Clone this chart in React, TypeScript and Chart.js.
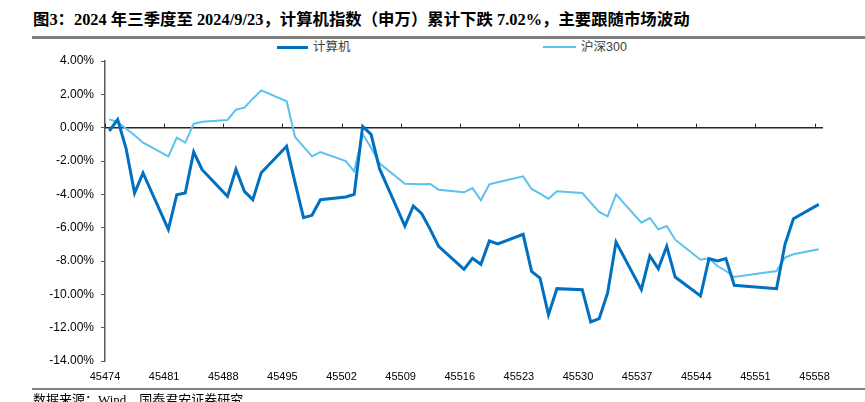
import React, { useEffect, useRef } from "react";
import { Chart, registerables } from "chart.js";

Chart.register(...registerables);

// Excel date serials of trading days (2024-07-01 = 45474)
const DATES = [
  45474, 45475, 45476, 45477, 45478,
  45481, 45482, 45483, 45484, 45485,
  45488, 45489, 45490, 45491, 45492,
  45495, 45496, 45497, 45498, 45499,
  45502, 45503, 45504, 45505, 45506,
  45509, 45510, 45511, 45512, 45513,
  45516, 45517, 45518, 45519, 45520,
  45523, 45524, 45525, 45526, 45527,
  45530, 45531, 45532, 45533, 45534,
  45537, 45538, 45539, 45540, 45541,
  45544, 45545, 45546, 45547, 45548,
  45553, 45554, 45555, 45558,
];

// 计算机 cumulative change (%)
const JSJ = [
  -0.2, 0.48, -1.26, -3.92, -2.72,
  -6.1, -4.02, -3.92, -1.46, -2.52,
  -4.12, -2.5, -3.82, -4.32, -2.7,
  -1.12, -3.3, -5.4, -5.26, -4.32,
  -4.16, -4.0, 0.08, -0.4, -2.46,
  -5.9, -4.7, -5.16, -6.1, -7.12,
  -8.5, -7.84, -8.2, -6.8, -6.98,
  -6.4, -8.62, -9.02, -11.22, -9.66,
  -9.72, -11.66, -11.46, -9.92, -6.86,
  -9.72, -7.7, -8.46, -7.12, -8.96,
  -10.1, -7.86, -8.0, -7.86, -9.46,
  -9.66, -7.0, -5.46, -4.6,
];

// 沪深300 cumulative change (%)
const HS300 = [
  0.5, 0.34, -0.06, -0.46, -0.9,
  -1.72, -0.6, -0.9, 0.24, 0.36,
  0.46, 1.08, 1.2, 1.74, 2.24,
  1.58, -0.56, -1.14, -1.72, -1.46,
  -2.0, -2.62, -0.4, -1.2, -2.14,
  -3.36, -3.38, -3.4, -3.38, -3.72,
  -3.88, -3.62, -4.36, -3.4, -3.28,
  -2.92, -3.68, -3.96, -4.26, -3.82,
  -3.92, -4.5, -5.06, -5.32, -4.0,
  -5.7, -5.42, -6.1, -5.9, -6.72,
  -7.92, -7.84, -8.3, -8.6, -8.96,
  -8.6, -7.8, -7.6, -7.3,
];

const SERIES_LABELS = ["计算机", "沪深300"];
const SERIES_COLORS = ["#0070C0", "#5BC2EE"];
const SERIES_WIDTHS = [3, 2];

const X_TICKS = [45474, 45481, 45488, 45495, 45502, 45509, 45516, 45523, 45530, 45537, 45544, 45551, 45558];
const X_MIN = 45474;
const X_MAX = 45559;
const DAY_CENTER = 0.5; // points sit in the middle of their day (date axis)
const Y_MIN = -14;
const Y_MAX = 4;
const Y_STEP = 2;

const TITLE = "图3：2024 年三季度至 2024/9/23，计算机指数（申万）累计下跌 7.02%，主要跟随市场波动";
const SOURCE = "数据来源：Wind，国泰君安证券研究";

const zeroAxis = {
  id: "zeroAxis",
  beforeDatasetsDraw(chart: any) {
    const { ctx, chartArea, scales } = chart;
    const x = scales.x;
    const y = scales.y;
    const y0 = y.getPixelForValue(0);
    ctx.save();
    ctx.strokeStyle = "#262626";
    ctx.lineWidth = 1.5;
    ctx.beginPath();
    ctx.moveTo(chartArea.left, y0);
    ctx.lineTo(chartArea.right, y0);
    ctx.stroke();
    ctx.lineWidth = 1;
    ctx.beginPath();
    for (const t of X_TICKS) {
      const px = Math.round(x.getPixelForValue(t)) + 0.5;
      ctx.moveTo(px, y0);
      ctx.lineTo(px, y0 - 4);
    }
    ctx.stroke();
    ctx.restore();
  },
};

export default function App() {
  const ref = useRef<HTMLCanvasElement | null>(null);

  useEffect(() => {
    document.body.style.margin = "0";
    if (!ref.current) return;
    const series = [JSJ, HS300];
    const chart = new Chart(ref.current, {
      type: "line",
      data: {
        datasets: series.map((vals, i) => ({
          label: SERIES_LABELS[i],
          data: DATES.map((d, k) => ({ x: d + DAY_CENTER, y: vals[k] })),
          borderColor: SERIES_COLORS[i],
          backgroundColor: SERIES_COLORS[i],
          borderWidth: SERIES_WIDTHS[i],
          pointRadius: 0,
          tension: 0,
          fill: false,
        })),
      },
      options: {
        animation: false,
        responsive: false,
        devicePixelRatio: 1,
        layout: { padding: { left: 0, right: 42, top: 61, bottom: 11 } },
        plugins: {
          legend: { display: false },
          title: { display: false },
          tooltip: { enabled: false },
        },
        scales: {
          x: {
            type: "linear",
            min: X_MIN,
            max: X_MAX,
            afterBuildTicks: (s: any) => {
              s.ticks = X_TICKS.map((v) => ({ value: v }));
            },
            afterFit: (s: any) => {
              s.height = 30;
            },
            grid: { display: false, drawTicks: false },
            border: { display: false },
            ticks: {
              autoSkip: false,
              maxRotation: 0,
              padding: 9,
              color: "#000",
              font: { family: "'Liberation Sans', Arial, sans-serif", size: 11 },
              callback: (v: any) => String(v),
            },
          },
          y: {
            min: Y_MIN,
            max: Y_MAX,
            afterFit: (s: any) => {
              s.width = 105;
            },
            grid: {
              display: true,
              drawOnChartArea: false,
              drawTicks: true,
              tickLength: 4,
              color: "#595959",
              lineWidth: 1,
            },
            border: { display: true, color: "#595959", width: 1.5 },
            ticks: {
              stepSize: Y_STEP,
              padding: 7,
              color: "#000",
              font: { family: "'Liberation Sans', Arial, sans-serif", size: 12 },
              callback: (v: any) => Number(v).toFixed(2) + "%",
            },
          },
        },
      },
      plugins: [zeroAxis],
    });
    return () => chart.destroy();
  }, []);

  const legendPos = [
    { lineLeft: 277, lineWidth: 31, textLeft: 313 },
    { lineLeft: 543, lineWidth: 33, textLeft: 581 },
  ];

  return (
    <div style={{ position: "relative", width: 865, height: 402, overflow: "hidden", background: "#fff" }}>
      <div
        style={{
          position: "absolute",
          left: 33,
          top: 10,
          whiteSpace: "nowrap",
          fontFamily: "'Liberation Serif', 'Noto Sans CJK SC', serif",
          fontWeight: "bold",
          fontSize: 16.4,
          lineHeight: "20px",
          color: "#000",
        }}
      >
        {TITLE}
      </div>
      <div style={{ position: "absolute", left: 32, top: 36, width: 833, height: 3, background: "#808080" }} />
      {SERIES_LABELS.map((lab, i) => (
        <React.Fragment key={lab}>
          <div
            style={{
              position: "absolute",
              left: legendPos[i].lineLeft,
              top: 47 - SERIES_WIDTHS[i] / 2,
              width: legendPos[i].lineWidth,
              height: SERIES_WIDTHS[i],
              background: SERIES_COLORS[i],
            }}
          />
          <div
            style={{
              position: "absolute",
              left: legendPos[i].textLeft,
              top: 39,
              lineHeight: "16px",
              fontSize: 12.5,
              fontFamily: "'Liberation Sans', 'Noto Sans CJK SC', sans-serif",
              color: "#404040",
              whiteSpace: "nowrap",
            }}
          >
            {lab}
          </div>
        </React.Fragment>
      ))}
      <canvas ref={ref} width={865} height={402} style={{ position: "absolute", left: 0, top: 0 }} />
      <div style={{ position: "absolute", left: 32, top: 388, width: 833, height: 2, background: "#808080" }} />
      <div
        style={{
          position: "absolute",
          left: 33,
          top: 392,
          whiteSpace: "nowrap",
          fontSize: 13,
          lineHeight: "16px",
          fontFamily: "'Liberation Serif', 'Noto Sans CJK SC', serif",
          color: "#000",
        }}
      >
        {SOURCE}
      </div>
    </div>
  );
}
